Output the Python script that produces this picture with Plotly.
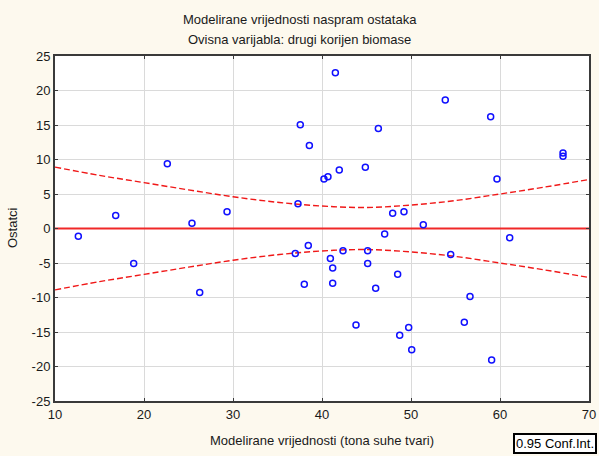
import plotly.graph_objects as go

# Predicted values (x) and residuals (y)
predicted = [12.62, 16.82, 18.84, 22.62, 25.39, 26.26, 29.33, 37.0, 37.30, 37.56,
             38.01, 38.46, 38.58, 40.22, 40.67, 40.94, 41.2, 41.2, 41.50, 41.94,
             42.36, 43.82, 44.87, 45.13, 45.13, 46.03, 46.33, 47.04, 47.94, 48.5,
             48.73, 49.21, 49.74, 50.08, 51.38, 53.85, 54.46, 55.99, 56.63, 58.95,
             59.06, 59.66, 61.09, 67.08, 67.08]
residuals = [-1.14, 1.87, -5.08, 9.40, 0.76, -9.26, 2.41, -3.62, 3.57, 15.04,
             -8.09, -2.45, 12.03, 7.17, 7.51, -4.35, -5.71, -7.94, 22.57, 8.48,
             -3.23, -13.97, 8.87, -3.23, -5.08, -8.67, 14.50, -0.80, 2.21, -6.63,
             -15.48, 2.41, -14.36, -17.57, 0.56, 18.63, -3.77, -13.58, -9.84, 16.21,
             -19.07, 7.17, -1.34, 10.96, 10.47]

# Confidence band
ci_x = [10, 15, 20, 25, 30, 35, 40, 45, 50, 55, 60, 65, 70]
ci_upper = [8.9, 7.7, 6.65, 5.6, 4.6, 3.8, 3.25, 3.05, 3.4, 4.05, 5.0, 6.0, 7.1]
ci_lower = [-8.9, -7.7, -6.65, -5.6, -4.6, -3.8, -3.25, -3.05, -3.4, -4.05, -5.0, -6.0, -7.1]

zero_x = [10, 70]
zero_y = [0, 0]

x_ticks = [10, 20, 30, 40, 50, 60, 70]
y_ticks = [25, 20, 15, 10, 5, 0, -5, -10, -15, -20, -25]

FONT = "Liberation Sans, Arial, sans-serif"
W, H = 599, 456
L, R, T, B = 55, 10, 56, 55
PW = W - L - R
PH = H - T - B

def px(xpix):
    return (xpix - L) / PW

def py(ypix):
    return (H - B - ypix) / PH

fig = go.Figure()
fig.add_trace(go.Scatter(x=zero_x, y=zero_y, mode="lines",
                         line=dict(color="#f02828", width=2), hoverinfo="skip",
                         showlegend=False))
fig.add_trace(go.Scatter(x=ci_x, y=ci_upper, mode="lines",
                         line=dict(color="#f01818", width=1.4, dash="6px,3px", shape="spline"),
                         showlegend=False))
fig.add_trace(go.Scatter(x=ci_x, y=ci_lower, mode="lines",
                         line=dict(color="#f01818", width=1.4, dash="6px,3px", shape="spline"),
                         showlegend=False))
fig.add_trace(go.Scatter(x=predicted, y=residuals, mode="markers",
                         marker=dict(symbol="circle-open", size=6, color="#1010ff",
                                     line=dict(width=1.5, color="#1010ff")),
                         showlegend=False))

axis_common = dict(
    showline=True, linecolor="#3a3a3a", linewidth=2, mirror="ticks",
    ticks="inside", ticklen=3, tickcolor="#3a3a3a", automargin=False,
    showgrid=True, gridcolor="#dadada", gridwidth=1, zeroline=False,
    tickfont=dict(family=FONT, size=13, color="#1a1a1a"),
)

fig.update_xaxes(range=[10, 70], tickvals=x_ticks, ticktext=[str(v) for v in x_ticks],
                 **axis_common)
fig.update_yaxes(range=[-25, 25], tickvals=y_ticks, ticktext=[str(v) for v in y_ticks],
                 **axis_common)

annotations = [
    dict(text="Modelirane vrijednosti naspram ostataka", x=px(299.5), y=py(19),
         xref="paper", yref="paper", showarrow=False, xanchor="center", yanchor="middle",
         font=dict(family=FONT, size=13, color="#1a1a1a")),
    dict(text="Ovisna varijabla: drugi korijen biomase", x=px(299.5), y=py(40),
         xref="paper", yref="paper", showarrow=False, xanchor="center", yanchor="middle",
         font=dict(family=FONT, size=13, color="#1a1a1a")),
    dict(text="Modelirane vrijednosti (tona suhe tvari)", x=px(322), y=py(440),
         xref="paper", yref="paper", showarrow=False, xanchor="center", yanchor="middle",
         font=dict(family=FONT, size=13, color="#1a1a1a")),
    dict(text="Ostatci", x=px(12), y=py(228), textangle=-90,
         xref="paper", yref="paper", showarrow=False, xanchor="center", yanchor="middle",
         font=dict(family=FONT, size=13, color="#1a1a1a")),
    dict(text="0.95 Conf.Int.", x=px(513), y=py(454),
         xref="paper", yref="paper", showarrow=False, xanchor="left", yanchor="bottom",
         bgcolor="white", bordercolor="#000000", borderwidth=2, borderpad=1,
         font=dict(family=FONT, size=13, color="#000000")),
]

fig.update_layout(
    width=W, height=H, autosize=False,
    margin=dict(l=L, r=R, t=T, b=B, autoexpand=False),
    paper_bgcolor="#fdf9ee", plot_bgcolor="white",
    annotations=annotations,
    showlegend=False,
)

post = (
    "document.body.style.margin='0';"
    "document.body.style.overflow='hidden';"
)

fig.write_html("out.html",
               config={"displayModeBar": False, "responsive": False},
               post_script=post)
